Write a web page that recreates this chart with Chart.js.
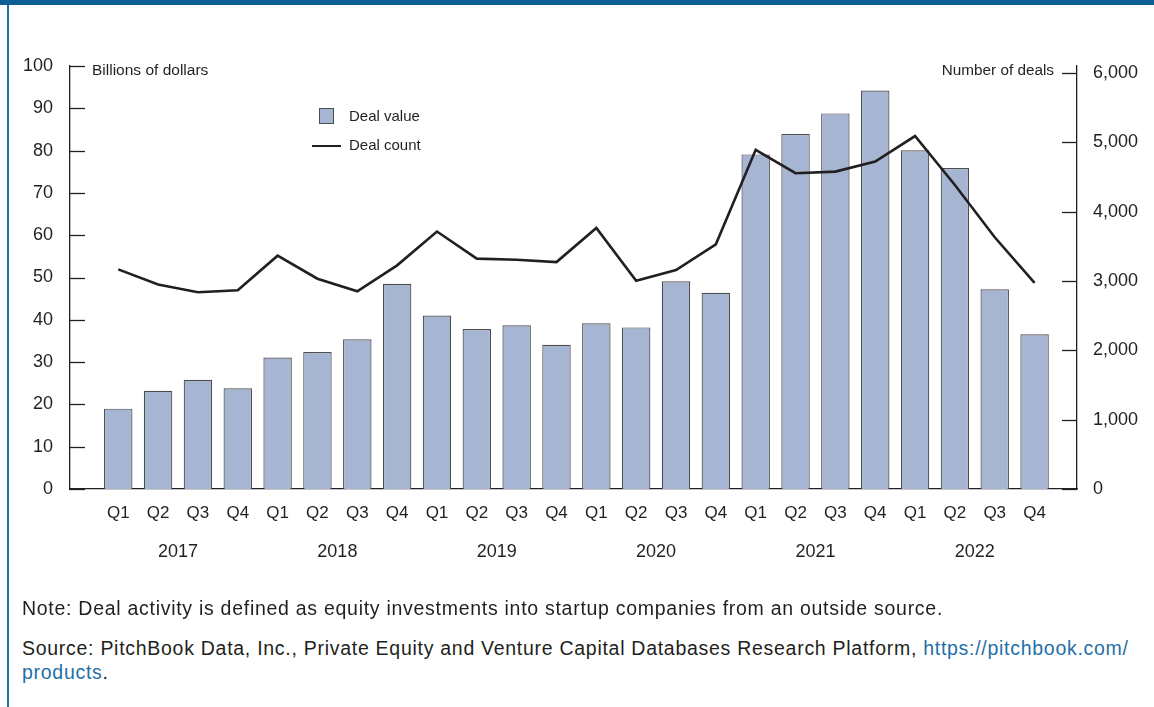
<!DOCTYPE html>
<html><head><meta charset="utf-8">
<script src="https://cdn.jsdelivr.net/npm/chart.js@4.4.1/dist/chart.umd.min.js"></script>
<style>
html,body{margin:0;padding:0;background:#fff;width:1154px;height:707px;overflow:hidden;font-family:"Liberation Sans",Arial,sans-serif;color:#231f20;}
#topbar{position:absolute;left:0;top:0;width:1154px;height:5px;background:#0b5f96;}
#leftbar{position:absolute;left:7px;top:5px;width:1.5px;height:702px;background:#1f6fa8;}
#wrap{position:absolute;left:0;top:0;width:1154px;height:600px;}
.lbl{position:absolute;font-size:15px;line-height:16px;white-space:nowrap;}
.sw{position:absolute;left:319px;top:108px;width:13px;height:14px;background:#a5b5d2;border:1px solid #4d4d4d;}
.ln{position:absolute;left:312px;top:144.5px;width:29px;height:2.6px;background:#231f20;}
.note{position:absolute;left:22px;font-size:19.5px;letter-spacing:0.72px;line-height:24px;white-space:nowrap;color:#231f20;}
.note a{color:#1f6fa8;text-decoration:none;}
</style>
</head><body>
<div id="topbar"></div>
<div id="leftbar"></div>
<div id="wrap"><canvas id="c"></canvas></div>
<div class="lbl" style="left:92px;top:62px;font-size:15.5px;">Billions of dollars</div>
<div class="lbl" style="right:100px;top:62px;font-size:15.3px;">Number of deals</div>
<div class="sw"></div>
<div class="lbl" style="left:349px;top:108px;">Deal value</div>
<div class="ln"></div>
<div class="lbl" style="left:349px;top:137px;">Deal count</div>
<div class="note" style="top:596px;">Note: Deal activity is defined as equity investments into startup companies from an outside source.</div>
<div class="note" style="top:636px;">Source: PitchBook Data, Inc., Private Equity and Venture Capital Databases Research Platform, <a>https://pitchbook.com/<br>products</a>.</div>
<script>
const quarters = ['Q1','Q2','Q3','Q4','Q1','Q2','Q3','Q4','Q1','Q2','Q3','Q4','Q1','Q2','Q3','Q4','Q1','Q2','Q3','Q4','Q1','Q2','Q3','Q4'];
const years = ['2017','2018','2019','2020','2021','2022'];
const dealValue = [19.0, 23.2, 25.8, 23.8, 31.1, 32.4, 35.4, 48.5, 41.0, 37.8, 38.7, 34.1, 39.2, 38.2, 49.1, 46.4, 79.1, 83.9, 88.8, 94.2, 80.1, 75.9, 47.2, 36.6];
const dealCount = [3167, 2949, 2838, 2867, 3365, 3032, 2852, 3225, 3713, 3322, 3307, 3272, 3765, 3003, 3157, 3529, 4891, 4554, 4577, 4722, 5090, 4384, 3630, 2974];
const leftTicks = [0,10,20,30,40,50,60,70,80,90,100];
const rightTicks = [0,1000,2000,3000,4000,5000,6000];

const INK = '#231f20';
const X_MIN = -1.211, X_MAX = 24.065;

const innerTicks = {
  id: 'innerTicks',
  afterDraw(chart) {
    const {ctx, chartArea: a, scales} = chart;
    ctx.save();
    ctx.strokeStyle = INK; ctx.lineWidth = 1.3;
    scales.y.ticks.forEach(t => {
      const p = Math.round(scales.y.getPixelForValue(t.value)) + 0.5;
      ctx.beginPath(); ctx.moveTo(a.left, p); ctx.lineTo(a.left + 15, p); ctx.stroke();
    });
    scales.y1.ticks.forEach(t => {
      const p = Math.round(scales.y1.getPixelForValue(t.value)) + 0.5;
      ctx.beginPath(); ctx.moveTo(a.right - 15, p); ctx.lineTo(a.right, p); ctx.stroke();
    });
    ctx.restore();
  }
};

new Chart(document.getElementById('c'), {
  data: {
    datasets: [
      {
        type: 'line', label: 'Deal count', yAxisID: 'y1', xAxisID: 'x', order: 0,
        data: dealCount.map((v, i) => ({x: i, y: v})),
        borderColor: INK, borderWidth: 2.6, pointRadius: 0, tension: 0,
        borderJoinStyle: 'miter', fill: false
      },
      {
        type: 'bar', label: 'Deal value', yAxisID: 'y', xAxisID: 'x', order: 1,
        data: dealValue.map((v, i) => ({x: i, y: v})),
        backgroundColor: '#a5b5d2', borderColor: '#4d4d4d', borderWidth: 1.2,
        categoryPercentage: 1, barPercentage: 0.714
      }
    ]
  },
  options: {
    responsive: true, maintainAspectRatio: false, animation: false,
    layout: {padding: {top: 66, bottom: 21, left: 0, right: 0}},
    plugins: {legend: {display: false}, tooltip: {enabled: false}},
    scales: {
      x: {
        type: 'linear', position: 'bottom', min: X_MIN, max: X_MAX, offset: false,
        grid: {display: false, drawTicks: false},
        border: {display: true, color: INK, width: 1.3},
        afterBuildTicks: s => { s.ticks = quarters.map((_, i) => ({value: i})); },
        afterFit: s => { s.height = 40; },
        ticks: {
          autoSkip: false, maxRotation: 0, padding: 14, color: INK,
          font: {family: 'Liberation Sans', size: 17},
          callback: (v, i) => quarters[i]
        }
      },
      x2: {
        type: 'linear', position: 'bottom', min: X_MIN, max: X_MAX, offset: false,
        grid: {display: false, drawTicks: false},
        border: {display: false},
        afterBuildTicks: s => { s.ticks = years.map((_, k) => ({value: 4 * k + 1.5})); },
        afterFit: s => { s.height = 50; },
        ticks: {
          autoSkip: false, maxRotation: 0, padding: 12, color: INK,
          font: {family: 'Liberation Sans', size: 18},
          callback: (v, i) => years[i]
        }
      },
      y: {
        type: 'linear', position: 'left', min: 0, max: 100,
        grid: {display: false, drawTicks: false},
        border: {display: true, color: INK, width: 1.3},
        afterBuildTicks: s => { s.ticks = leftTicks.map(v => ({value: v})); },
        afterFit: s => { s.width = 70; },
        ticks: {padding: 17, color: INK, font: {family: 'Liberation Sans', size: 18}}
      },
      y1: {
        type: 'linear', position: 'right', min: 0, max: 6100,
        grid: {display: false, drawTicks: false},
        border: {display: true, color: INK, width: 1.3},
        afterBuildTicks: s => { s.ticks = rightTicks.map(v => ({value: v})); },
        afterFit: s => { s.width = 77; },
        ticks: {
          padding: 16, color: INK, font: {family: 'Liberation Sans', size: 18},
          callback: v => v.toLocaleString('en-US')
        }
      }
    }
  },
  plugins: [innerTicks]
});
</script>
</body></html>
